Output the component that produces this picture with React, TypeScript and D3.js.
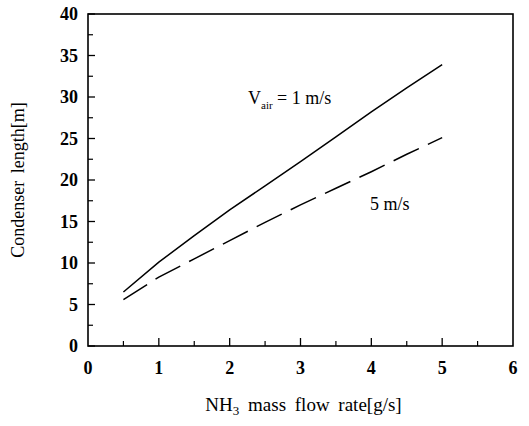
import React from "react";
import * as d3 from "d3";

const flowRates = [0.5, 1, 1.5, 2, 2.5, 3, 3.5, 4, 4.5, 5];
const lengthV1 = [6.5, 10.1, 13.3, 16.4, 19.3, 22.2, 25.2, 28.2, 31.1, 33.9];
const lengthV5 = [5.6, 8.3, 10.5, 12.7, 14.9, 17.0, 19.0, 21.0, 23.1, 25.1];
const xTicks = [0, 1, 2, 3, 4, 5, 6];
const yTicks = [0, 5, 10, 15, 20, 25, 30, 35, 40];

const W = 529, H = 426;
const m = { left: 88, top: 14, right: 513, bottom: 346 };
const font = "'Liberation Serif', 'DejaVu Serif', serif";

export default function App() {
  const x = d3.scaleLinear().domain([0, 6]).range([m.left, m.right]);
  const y = d3.scaleLinear().domain([0, 40]).range([m.bottom, m.top]);
  const line = d3.line<number>().x((_, i) => x(flowRates[i])).y((d) => y(d));
  const xMinor = d3.range(0.5, 6, 1);
  const yMinor = d3.range(2.5, 40, 5);
  return (
    <svg width={W} height={H} style={{ position: "absolute", left: 0, top: 0, background: "#fff" }}>
      <rect x={m.left} y={m.top} width={m.right - m.left} height={m.bottom - m.top} fill="none" stroke="#000" strokeWidth={1.6} />
      {yTicks.map((t) => (
        <g key={"y" + t}>
          <line x1={m.left} x2={m.left + 7} y1={y(t)} y2={y(t)} stroke="#000" strokeWidth={1.3} />
          <text x={m.left - 10} y={y(t)} dy="0.35em" textAnchor="end" fontFamily={font} fontSize={18} fontWeight="bold">{t}</text>
        </g>
      ))}
      {yMinor.map((t) => (
        <line key={"ym" + t} x1={m.left} x2={m.left + 5} y1={y(t)} y2={y(t)} stroke="#000" strokeWidth={1.2} />
      ))}
      {xTicks.map((t) => (
        <g key={"x" + t}>
          {t > 0 && t < 6 && <line x1={x(t)} x2={x(t)} y1={m.bottom} y2={m.bottom - 8} stroke="#000" strokeWidth={1.3} />}
          <text x={x(t)} y={m.bottom + 28} textAnchor="middle" fontFamily={font} fontSize={18} fontWeight="bold">{t}</text>
        </g>
      ))}
      {xMinor.map((t) => (
        <line key={"xm" + t} x1={x(t)} x2={x(t)} y1={m.bottom} y2={m.bottom - 5} stroke="#000" strokeWidth={1.2} />
      ))}
      <path d={line(lengthV1) || ""} fill="none" stroke="#000" strokeWidth={1.5} />
      <path d={line(lengthV5) || ""} fill="none" stroke="#000" strokeWidth={1.5} strokeDasharray="28,10" />
      <text x={248} y={104} fontFamily={font} fontSize={18}>
        V<tspan fontSize={11} dy={5}>air</tspan><tspan dy={-5}> = 1 m/s</tspan>
      </text>
      <text x={370} y={210} fontFamily={font} fontSize={18}>5 m/s</text>
      <text transform={`translate(24,${(m.top + m.bottom) / 2}) rotate(-90)`} textAnchor="middle" fontFamily={font} fontSize={18} wordSpacing={3}>Condenser length[m]</text>
      <text x={(m.left + m.right) / 2 + 3} y={411} textAnchor="middle" fontFamily={font} fontSize={19} wordSpacing={4}>
        NH<tspan fontSize={13} dy={4}>3</tspan><tspan dy={-4}> mass flow rate[g/s]</tspan>
      </text>
    </svg>
  );
}
